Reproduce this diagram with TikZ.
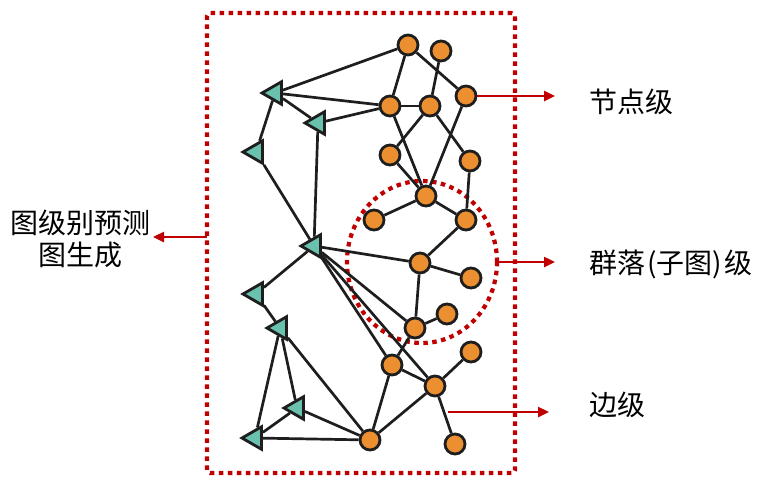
\documentclass[tikz,border=0pt]{standalone}
\usepackage{fontspec}
\setmainfont{Noto Sans CJK SC}
\usetikzlibrary{arrows.meta, shapes.geometric}
\definecolor{nodeorange}{RGB}{236,143,48}
\definecolor{triteal}{RGB}{106,194,174}
\definecolor{edgeblack}{RGB}{30,30,30}
\definecolor{markred}{RGB}{192,0,0}
\tikzset{
	vertex/.style={circle, draw=edgeblack, fill=nodeorange, line width=2.8pt, minimum size=20pt, inner sep=0pt},
	tri/.style={regular polygon, regular polygon sides=3, shape border rotate=90, draw=edgeblack, fill=triteal, line width=2.8pt, minimum size=26pt, inner sep=0pt},
	link/.style={draw=edgeblack, line width=2.7pt},
	redline/.style={markred, line width=2.4pt, -{Triangle[length=11pt, width=10pt]}},
	reddots/.style={draw=markred, line width=4.2pt, dash pattern=on 4.5pt off 4.5pt},
	caption/.style={font=\fontsize{28}{32}\selectfont, inner sep=0pt}
}

\begin{document}
\begin{tikzpicture}[x=1pt, y=-1pt]
		\useasboundingbox (0,0) rectangle (776,496);
		
		% Frame and community ring
		\node[reddots, rounded corners=3pt, minimum width=308pt, minimum height=460pt] (frame) at (361,243) {};
		\node[reddots, ellipse, minimum width=150pt, minimum height=162pt] (comm) at (422,262) {};
		
		% Place orange nodes
		\node[vertex] (o1)  at (408,45)  {};
		\node[vertex] (o2)  at (441,51)  {};
		\node[vertex] (o3)  at (466,96)  {};
		\node[vertex] (o4)  at (390,106) {};
		\node[vertex] (o5)  at (430,106) {};
		\node[vertex] (o6)  at (390,155) {};
		\node[vertex] (o7)  at (470,161) {};
		\node[vertex] (o8)  at (426,196) {};
		\node[vertex] (o9)  at (374,220) {};
		\node[vertex] (o10) at (466,220) {};
		\node[vertex] (o11) at (420,263) {};
		\node[vertex] (o12) at (471,278) {};
		\node[vertex] (o13) at (447,314) {};
		\node[vertex] (o14) at (415,328) {};
		\node[vertex] (o15) at (471,352) {};
		\node[vertex] (o16) at (392,365) {};
		\node[vertex] (o17) at (435,386) {};
		\node[vertex] (o18) at (370,440) {};
		\node[vertex] (o19) at (455,444) {};
		
		% Place triangles
		\node[tri] (t1) at (275,93)  {};
		\node[tri] (t2) at (318,123) {};
		\node[tri] (t3) at (256,152) {};
		\node[tri] (t4) at (314,246) {};
		\node[tri] (t5) at (256,294) {};
		\node[tri] (t6) at (280,328) {};
		\node[tri] (t7) at (297,408) {};
		\node[tri] (t8) at (255,438) {};
		
		% Edges, upper part
		\draw[link] (o1) -- (t1);
		\draw[link] (o1) -- (o4);
		\draw[link] (o1) -- (o3);
		\draw[link] (o2) -- (o5);
		\draw[link] (o4) -- (o5);
		\draw[link] (t1) -- (o4);
		\draw[link] (t2) -- (o4);
		\draw[link] (t1) -- (t2);
		\draw[link] (t1) -- (t3);
		\draw[link] (t3) -- (t4);
		\draw[link] (t2) -- (t4);
		\draw[link] (o4) -- (o8);
		\draw[link] (o5) -- (o6);
		\draw[link] (o5) -- (o7);
		\draw[link] (o3) -- (o8);
		\draw[link] (o6) -- (o8);
		\draw[link] (o7) -- (o10);
		\draw[link] (o8) -- (o9);
		\draw[link] (o8) -- (o10);
		\draw[link] (o10) -- (o11);
		
		% Edges, middle part
		\draw[link] (t4) -- (o11);
		\draw[link] (t4) -- (o14);
		\draw[link] (t4) -- (o16);
		\draw[link] (t4) -- (o17);
		\draw[link] (t4) -- (t5);
		\draw[link] (o11) -- (o12);
		\draw[link] (o11) -- (o14);
		\draw[link] (o14) -- (o13);
		\draw[link] (o14) -- (o16);
		
		% Edges, lower part
		\draw[link] (t5) -- (t6);
		\draw[link] (o16) -- (o17);
		\draw[link] (o17) -- (o15);
		\draw[link] (o17) -- (o19);
		\draw[link] (o16) -- (o18);
		\draw[link] (o18) -- (o17);
		\draw[link] (t6) -- (t8);
		\draw[link] (t6) -- (t7);
		\draw[link] (t6) -- (o18);
		\draw[link] (t7) -- (o18);
		\draw[link] (t7) -- (t8);
		\draw[link] (t8) -- (o18);
		
		% Pointers and labels
		\coordinate (nodeEnd)   at (555,96);
		\coordinate (commEnd)   at (555,262);
		\coordinate (edgeStart) at (448,412);
		\coordinate (edgeEnd)   at (549,412);
		\coordinate (graphStart) at (207,237);
		\coordinate (graphEnd)  at (153,237);
		
		\draw[redline] (o3.east) -- (nodeEnd);        % node level
		\draw[redline] (comm.east) -- (commEnd);      % community level
		\draw[redline] (edgeStart) -- (edgeEnd);      % edge level
		\draw[redline] (graphStart) -- (graphEnd);    % graph level
		
		\node[caption, anchor=west] (nodeText) at (589,102) {节点级};
		\node[caption, anchor=west] (commText) at (589,264) {群落\kern2pt(子图)\kern2pt级};
		\node[caption, anchor=west] (edgeText) at (589,405) {边级};
		\node[caption, align=center] (graphText) at (80,239) {图级别预测\\图生成};
		
	\end{tikzpicture}
\end{document}
